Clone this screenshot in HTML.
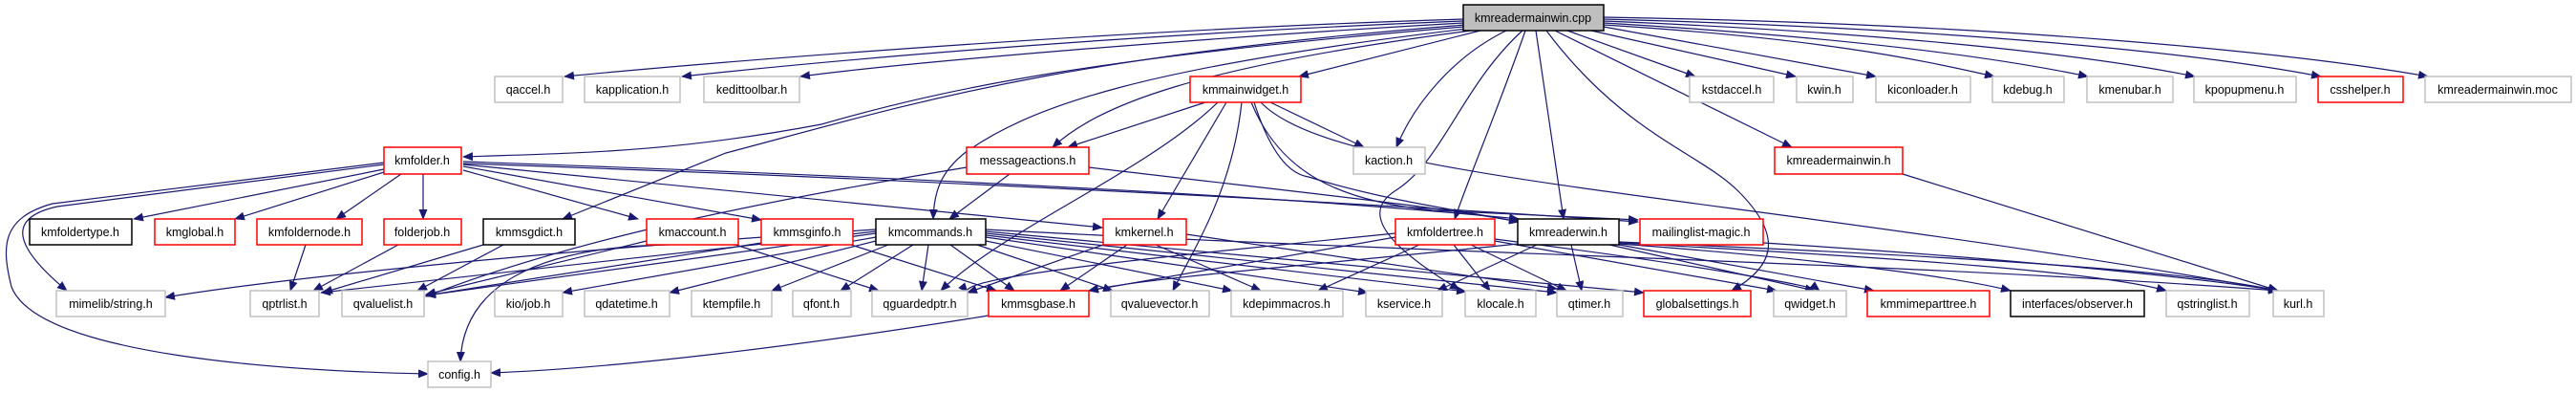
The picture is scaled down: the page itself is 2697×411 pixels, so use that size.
<!DOCTYPE html>
<html><head><meta charset="utf-8"><style>
html,body{margin:0;padding:0;background:#fff;}
svg{display:block;}
text{font-family:"Liberation Sans",sans-serif;font-size:12.5px;fill:#000;}
.g{fill:#fff;stroke:#c0c0c0;stroke-width:1.5;}
.r{fill:#fff;stroke:#ff0000;stroke-width:1.5;}
.b{fill:#fff;stroke:#000;stroke-width:1.5;}
.e{fill:none;stroke:#191970;stroke-width:1.2;marker-end:url(#a);}
</style></head><body>
<svg width="2697" height="411" viewBox="0 0 2697 411" xmlns="http://www.w3.org/2000/svg">
<defs><marker id="a" markerUnits="userSpaceOnUse" markerWidth="11" markerHeight="9" refX="10" refY="4.5" orient="auto"><path d="M0,0 L11,4.5 L0,9 z" fill="#191970"/></marker></defs>
<g>
<path class="e" d="M1532,20 C1200,30 800,60 591,80"/>
<path class="e" d="M1532,22 C1200,35 900,60 714,80"/>
<path class="e" d="M1532,24 C1250,40 950,65 838,80"/>
<path class="e" d="M1550,32 L1360,80"/>
<path class="e" d="M1532,28 C1150,60 1000,90 860,130 C 700,160 600,160 485,164"/>
<path class="e" d="M1540,32 C1250,70 1150,110 1102,154"/>
<path class="e" d="M1536,30 C1200,70 1080,110 1010,160 C 985,180 978,200 977,229"/>
<path class="e" d="M1534,26 C1100,60 950,110 760,160 L589,229"/>
<path class="e" d="M1577,32 C1520,60 1480,110 1462,154"/>
<path class="e" d="M1597,32 C1570,110 1540,180 1523,229"/>
<path class="e" d="M1608,32 L1637,229"/>
<path class="e" d="M1619,32 C1700,140 1780,160 1820,200 C1870,250 1855,280 1813,304"/>
<path class="e" d="M1628,32 L1876,154"/>
<path class="e" d="M1641,32 L1775,80"/>
<path class="e" d="M1666,32 L1880,80"/>
<path class="e" d="M1679,28 L1964,80"/>
<path class="e" d="M1679,26 C1900,40 2000,60 2088,80"/>
<path class="e" d="M1679,24 C1950,40 2100,62 2186,80"/>
<path class="e" d="M1679,22 C2000,35 2200,60 2298,80"/>
<path class="e" d="M1679,20 C2050,30 2300,55 2430,80"/>
<path class="e" d="M1679,18 C2100,25 2400,55 2542,80"/>
<path class="e" d="M1594,32 C1530,90 1510,170 1460,200 C1430,220 1440,250 1528,303"/>
<path class="e" d="M1262,107 L1118,154"/>
<path class="e" d="M1330,107 L1428,154"/>
<path class="e" d="M1284,107 L1212,229"/>
<path class="e" d="M1275,107 C1200,180 1050,240 985,304"/>
<path class="e" d="M1300,107 C1290,200 1250,260 1228,304"/>
<path class="e" d="M1313,107 C1330,160 1350,182 1370,185 C1450,210 1530,220 1590,232"/>
<path class="e" d="M1310,107 C1340,180 1400,210 1500,220 C1600,225 1680,228 1715,230"/>
<path class="e" d="M1320,107 C1400,190 1800,200 2385,304"/>
<path class="e" d="M402,177 L140,229"/>
<path class="e" d="M402,180 L246,229"/>
<path class="e" d="M420,182 L352,229"/>
<path class="e" d="M443,182 L443,229"/>
<path class="e" d="M485,178 L668,229"/>
<path class="e" d="M485,174 L797,230"/>
<path class="e" d="M485,172 L1154,238"/>
<path class="e" d="M485,169 C800,180 1300,200 1590,229"/>
<path class="e" d="M485,171 C900,185 1400,210 1715,232"/>
<path class="e" d="M402,172 L60,216 C15,226 5,250 70,304"/>
<path class="e" d="M402,170 L55,213 C0,228 2,260 12,300 C40,372 300,388 448,391"/>
<path class="e" d="M1057,182 L994,229"/>
<path class="e" d="M1012,175 C800,210 600,250 446,310"/>
<path class="e" d="M1140,175 C1350,200 1500,215 1590,232"/>
<path class="e" d="M506,256 L338,306"/>
<path class="e" d="M527,256 L437,304"/>
<path class="e" d="M320,256 L304,304"/>
<path class="e" d="M417,256 L328,304"/>
<path class="e" d="M677,252 L446,308"/>
<path class="e" d="M770,256 L920,304"/>
<path class="e" d="M700,256 C560,258 485,300 482,378"/>
<path class="e" d="M891,256 L1043,304"/>
<path class="e" d="M797,254 L446,309"/>
<path class="e" d="M917,240 C600,260 300,290 173,311"/>
<path class="e" d="M917,242 L336,306"/>
<path class="e" d="M917,244 L446,309"/>
<path class="e" d="M917,248 L589,306"/>
<path class="e" d="M917,252 L701,306"/>
<path class="e" d="M930,256 L808,304"/>
<path class="e" d="M956,256 L880,304"/>
<path class="e" d="M972,256 L965,304"/>
<path class="e" d="M995,256 L1062,304"/>
<path class="e" d="M1023,256 L1165,304"/>
<path class="e" d="M1032,252 L1290,304"/>
<path class="e" d="M1032,248 L1432,306"/>
<path class="e" d="M1032,246 L1535,305"/>
<path class="e" d="M1032,244 L1630,306"/>
<path class="e" d="M1032,242 L1721,306"/>
<path class="e" d="M1032,240 C1500,265 2000,275 2385,304"/>
<path class="e" d="M1155,256 L1013,306"/>
<path class="e" d="M1180,256 L1110,304"/>
<path class="e" d="M1210,256 L1320,304"/>
<path class="e" d="M1242,245 L1630,302"/>
<path class="e" d="M1035,330 C850,360 650,385 514,390"/>
<path class="e" d="M1461,248 L1140,304"/>
<path class="e" d="M1486,256 L1380,304"/>
<path class="e" d="M1522,256 L1560,304"/>
<path class="e" d="M1540,256 L1640,304"/>
<path class="e" d="M1565,252 L1860,304"/>
<path class="e" d="M1461,244 C1200,270 1000,290 1013,306"/>
<path class="e" d="M1609,256 L1505,304"/>
<path class="e" d="M1645,256 L1656,304"/>
<path class="e" d="M1685,256 L1900,304"/>
<path class="e" d="M1695,256 L1962,304"/>
<path class="e" d="M1695,255 C1900,270 2050,290 2105,304"/>
<path class="e" d="M1695,254 C2000,270 2200,285 2268,304"/>
<path class="e" d="M1695,253 C2100,270 2300,285 2385,304"/>
<path class="e" d="M1589,255 C1400,275 1200,290 1140,304"/>
<path class="e" d="M1846,254 C2100,270 2300,290 2385,304"/>
<path class="e" d="M1992,182 L2385,304"/>
<path class="e" d="M1565,250 C1800,280 1900,300 1905,304"/>
</g>
<g>
<rect x="1532" y="5" width="147" height="27" fill="#bfbfbf" stroke="#000" stroke-width="1.5"/><text x="1605" y="23" text-anchor="middle">kmreadermainwin.cpp</text>
<rect class="g" x="518" y="80" width="71" height="27"/><text x="553" y="98" text-anchor="middle">qaccel.h</text>
<rect class="g" x="612" y="80" width="100" height="27"/><text x="662" y="98" text-anchor="middle">kapplication.h</text>
<rect class="g" x="737" y="80" width="100" height="27"/><text x="787" y="98" text-anchor="middle">kedittoolbar.h</text>
<rect class="r" x="1246" y="80" width="116" height="27"/><text x="1304" y="98" text-anchor="middle">kmmainwidget.h</text>
<rect class="g" x="1769" y="80" width="88" height="27"/><text x="1813" y="98" text-anchor="middle">kstdaccel.h</text>
<rect class="g" x="1881" y="80" width="59" height="27"/><text x="1910" y="98" text-anchor="middle">kwin.h</text>
<rect class="g" x="1964" y="80" width="99" height="27"/><text x="2013" y="98" text-anchor="middle">kiconloader.h</text>
<rect class="g" x="2086" y="80" width="75" height="27"/><text x="2123" y="98" text-anchor="middle">kdebug.h</text>
<rect class="g" x="2185" y="80" width="90" height="27"/><text x="2230" y="98" text-anchor="middle">kmenubar.h</text>
<rect class="g" x="2297" y="80" width="107" height="27"/><text x="2350" y="98" text-anchor="middle">kpopupmenu.h</text>
<rect class="r" x="2427" y="80" width="89" height="27"/><text x="2471" y="98" text-anchor="middle">csshelper.h</text>
<rect class="g" x="2539" y="80" width="153" height="27"/><text x="2615" y="98" text-anchor="middle">kmreadermainwin.moc</text>
<rect class="r" x="402" y="154" width="81" height="28"/><text x="442" y="172" text-anchor="middle">kmfolder.h</text>
<rect class="r" x="1012" y="154" width="128" height="28"/><text x="1076" y="172" text-anchor="middle">messageactions.h</text>
<rect class="g" x="1417" y="154" width="75" height="28"/><text x="1454" y="172" text-anchor="middle">kaction.h</text>
<rect class="r" x="1858" y="154" width="134" height="28"/><text x="1925" y="172" text-anchor="middle">kmreadermainwin.h</text>
<rect class="b" x="31" y="229" width="107" height="27"/><text x="84" y="247" text-anchor="middle">kmfoldertype.h</text>
<rect class="r" x="162" y="229" width="84" height="27"/><text x="204" y="247" text-anchor="middle">kmglobal.h</text>
<rect class="r" x="269" y="229" width="110" height="27"/><text x="324" y="247" text-anchor="middle">kmfoldernode.h</text>
<rect class="r" x="402" y="229" width="81" height="27"/><text x="442" y="247" text-anchor="middle">folderjob.h</text>
<rect class="b" x="506" y="229" width="96" height="27"/><text x="554" y="247" text-anchor="middle">kmmsgdict.h</text>
<rect class="r" x="677" y="229" width="96" height="27"/><text x="725" y="247" text-anchor="middle">kmaccount.h</text>
<rect class="r" x="797" y="229" width="96" height="27"/><text x="845" y="247" text-anchor="middle">kmmsginfo.h</text>
<rect class="b" x="917" y="229" width="115" height="27"/><text x="974" y="247" text-anchor="middle">kmcommands.h</text>
<rect class="r" x="1155" y="229" width="87" height="27"/><text x="1198" y="247" text-anchor="middle">kmkernel.h</text>
<rect class="r" x="1461" y="229" width="104" height="27"/><text x="1513" y="247" text-anchor="middle">kmfoldertree.h</text>
<rect class="b" x="1589" y="229" width="106" height="27"/><text x="1642" y="247" text-anchor="middle">kmreaderwin.h</text>
<rect class="r" x="1717" y="229" width="129" height="27"/><text x="1781" y="247" text-anchor="middle">mailinglist-magic.h</text>
<rect class="g" x="59" y="304" width="114" height="27"/><text x="116" y="322" text-anchor="middle">mimelib/string.h</text>
<rect class="g" x="262" y="304" width="72" height="27"/><text x="298" y="322" text-anchor="middle">qptrlist.h</text>
<rect class="g" x="358" y="304" width="86" height="27"/><text x="401" y="322" text-anchor="middle">qvaluelist.h</text>
<rect class="g" x="518" y="304" width="71" height="27"/><text x="553" y="322" text-anchor="middle">kio/job.h</text>
<rect class="g" x="612" y="304" width="89" height="27"/><text x="656" y="322" text-anchor="middle">qdatetime.h</text>
<rect class="g" x="724" y="304" width="84" height="27"/><text x="766" y="322" text-anchor="middle">ktempfile.h</text>
<rect class="g" x="830" y="304" width="61" height="27"/><text x="860" y="322" text-anchor="middle">qfont.h</text>
<rect class="g" x="913" y="304" width="100" height="27"/><text x="963" y="322" text-anchor="middle">qguardedptr.h</text>
<rect class="r" x="1035" y="304" width="105" height="27"/><text x="1087" y="322" text-anchor="middle">kmmsgbase.h</text>
<rect class="g" x="1163" y="304" width="103" height="27"/><text x="1214" y="322" text-anchor="middle">qvaluevector.h</text>
<rect class="g" x="1289" y="304" width="117" height="27"/><text x="1347" y="322" text-anchor="middle">kdepimmacros.h</text>
<rect class="g" x="1430" y="304" width="80" height="27"/><text x="1470" y="322" text-anchor="middle">kservice.h</text>
<rect class="g" x="1534" y="304" width="74" height="27"/><text x="1571" y="322" text-anchor="middle">klocale.h</text>
<rect class="g" x="1630" y="304" width="69" height="27"/><text x="1664" y="322" text-anchor="middle">qtimer.h</text>
<rect class="r" x="1721" y="304" width="112" height="27"/><text x="1777" y="322" text-anchor="middle">globalsettings.h</text>
<rect class="g" x="1857" y="304" width="76" height="27"/><text x="1895" y="322" text-anchor="middle">qwidget.h</text>
<rect class="r" x="1955" y="304" width="128" height="27"/><text x="2019" y="322" text-anchor="middle">kmmimeparttree.h</text>
<rect class="b" x="2105" y="304" width="140" height="27"/><text x="2175" y="322" text-anchor="middle">interfaces/observer.h</text>
<rect class="g" x="2268" y="304" width="87" height="27"/><text x="2311" y="322" text-anchor="middle">qstringlist.h</text>
<rect class="g" x="2380" y="304" width="53" height="27"/><text x="2406" y="322" text-anchor="middle">kurl.h</text>
<rect class="g" x="448" y="378" width="66" height="27"/><text x="481" y="396" text-anchor="middle">config.h</text>
</g>
</svg>
</body></html>
